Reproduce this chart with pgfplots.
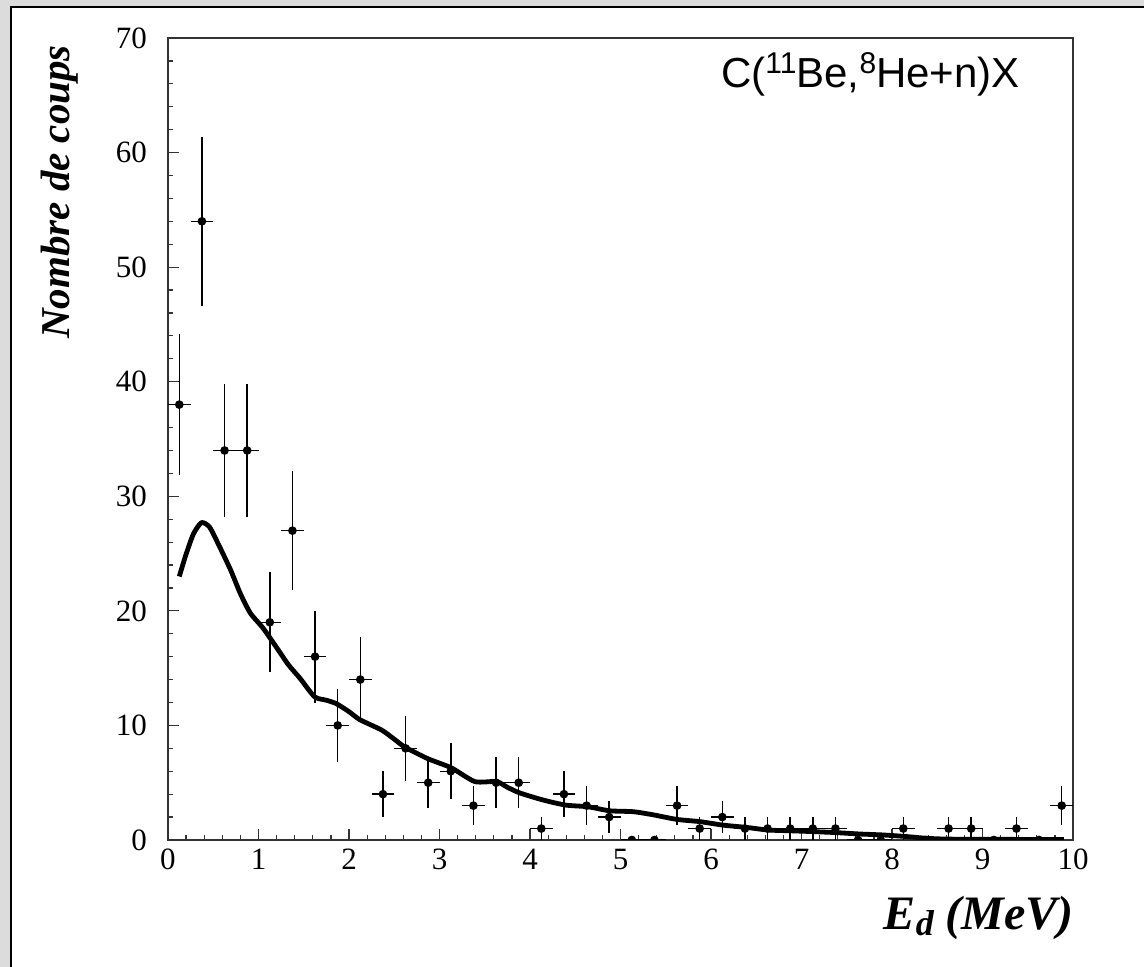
\documentclass[border=0pt]{standalone}
\usepackage{fontspec}
\setmainfont{Liberation Serif}
\newfontfamily\arial{Liberation Sans}
\usepackage{pgfplots}
\pgfplotsset{compat=1.18}
\usepackage{pgfplotstable}

\pgfplotstableread{
x y ex ey
0.125 38 0.125 6.16
0.375 54 0.125 7.35
0.625 34 0.125 5.83
0.875 34 0.125 5.83
1.125 19 0.125 4.36
1.375 27 0.125 5.20
1.625 16 0.125 4.00
1.875 10 0.125 3.16
2.125 14 0.125 3.74
2.375 4 0.125 2.00
2.625 8 0.125 2.83
2.875 5 0.125 2.24
3.125 6 0.125 2.45
3.375 3 0.125 1.73
3.625 5 0.125 2.24
3.875 5 0.125 2.24
4.125 1 0.125 1.00
4.375 4 0.125 2.00
4.625 3 0.125 1.73
4.875 2 0.125 1.41
5.125 0 0.125 0
5.375 0 0.125 0
5.625 3 0.125 1.73
5.875 1 0.125 1.00
6.125 2 0.125 1.41
6.375 1 0.125 1.00
6.625 1 0.125 1.00
6.875 1 0.125 1.00
7.125 1 0.125 1.00
7.375 1 0.125 1.00
7.625 0 0.125 0
7.875 0 0.125 0
8.125 1 0.125 1.00
8.375 0 0.125 0
8.625 1 0.125 1.00
8.875 1 0.125 1.00
9.125 0 0.125 0
9.375 1 0.125 1.00
9.625 0 0.125 0
9.875 3 0.125 1.73
}\datatab

\pgfplotstableread{
x y
0.125 23
0.19 24.7
0.28 26.7
0.37 27.7
0.46 27.3
0.57 25.6
0.69 23.6
0.80 21.5
0.91 19.8
1.05 18.5
1.20 16.8
1.33 15.3
1.46 14.1
1.62 12.5
1.75 12.2
1.86 11.9
2.00 11.2
2.12 10.5
2.36 9.6
2.50 8.8
2.62 8.1
2.87 7.1
3.13 6.3
3.39 5.1
3.63 5.1
3.75 4.6
3.89 4.1
4.14 3.5
4.39 3.05
4.64 2.9
4.88 2.55
5.14 2.47
5.36 2.2
5.62 1.8
5.88 1.6
6.13 1.3
6.39 1.1
6.63 0.87
6.89 0.8
7.13 0.73
7.39 0.64
7.65 0.52
7.90 0.44
8.16 0.3
8.38 0.15
8.60 0.08
9.00 0.06
9.50 0.05
9.90 0.05
}\curvetab

\begin{document}
\begin{tikzpicture}
% page background and panel
\path[use as bounding box, fill={rgb,255:red,220;green,220;blue,220}] (-84pt,-63.5pt) rectangle (488pt,420pt);
\fill[white] (-78.5pt,-70pt) rectangle (495pt,416.5pt);
\draw[black, line width=1.2pt] (-78.5pt,-70pt) -- (-78.5pt,416.5pt) -- (495pt,416.5pt);
\begin{axis}[
  name=ax,
  at={(0pt,0pt)}, anchor=south west,
  scale only axis,
  width=452.5pt, height=401pt,
  xmin=0, xmax=10, ymin=0, ymax=70,
  xtick={0,1,...,10}, ytick={0,10,...,70},
  minor x tick num=4, minor y tick num=4,
  tick pos=left,
  tick align=inside,
  major tick length=5.5pt, minor tick length=2.5pt,
  axis line style={line width=0.6pt, black!80},
  every tick/.style={black!80, line width=0.6pt},
  tick label style={font=\fontsize{15.5}{15.5}\selectfont},
  /pgf/number format/assume math mode=true,
  xticklabel style={yshift=-1pt},
  yticklabel style={xshift=-7pt},
  clip marker paths=true,
]
\addplot[black, line width=0.7pt, mark=*, mark size=1.8pt,
  only marks,
  error bars/.cd, x dir=both, x explicit, y dir=both, y explicit,
  error mark=none, error bar style={line width=0.7pt, black}]
  table[x=x, y=y, x error=ex, y error=ey] {\datatab};
\addplot[black, line width=2.4pt, smooth, tension=0.4, line join=round] table[x=x, y=y] {\curvetab};
\end{axis}
\node[rotate=90, anchor=east, font=\fontsize{20.5}{20.5}\selectfont\bfseries\itshape] at ([xshift=-54pt]ax.north west) {Nombre de coups};
\node[anchor=base east, font=\fontsize{24}{24}\selectfont\bfseries\itshape] at ([xshift=4pt, yshift=-45pt]ax.south east) {E\raisebox{-3pt}{\fontsize{18}{18}\selectfont d} (MeV)};
\node[anchor=base west, font=\arial\fontsize{21}{21}\selectfont] at ([xshift=273pt, yshift=-25pt]ax.north west) {C(\raisebox{7pt}{\fontsize{15}{15}\selectfont 11}Be,\raisebox{7pt}{\fontsize{15}{15}\selectfont 8}He+n)X};
\end{tikzpicture}
\end{document}
